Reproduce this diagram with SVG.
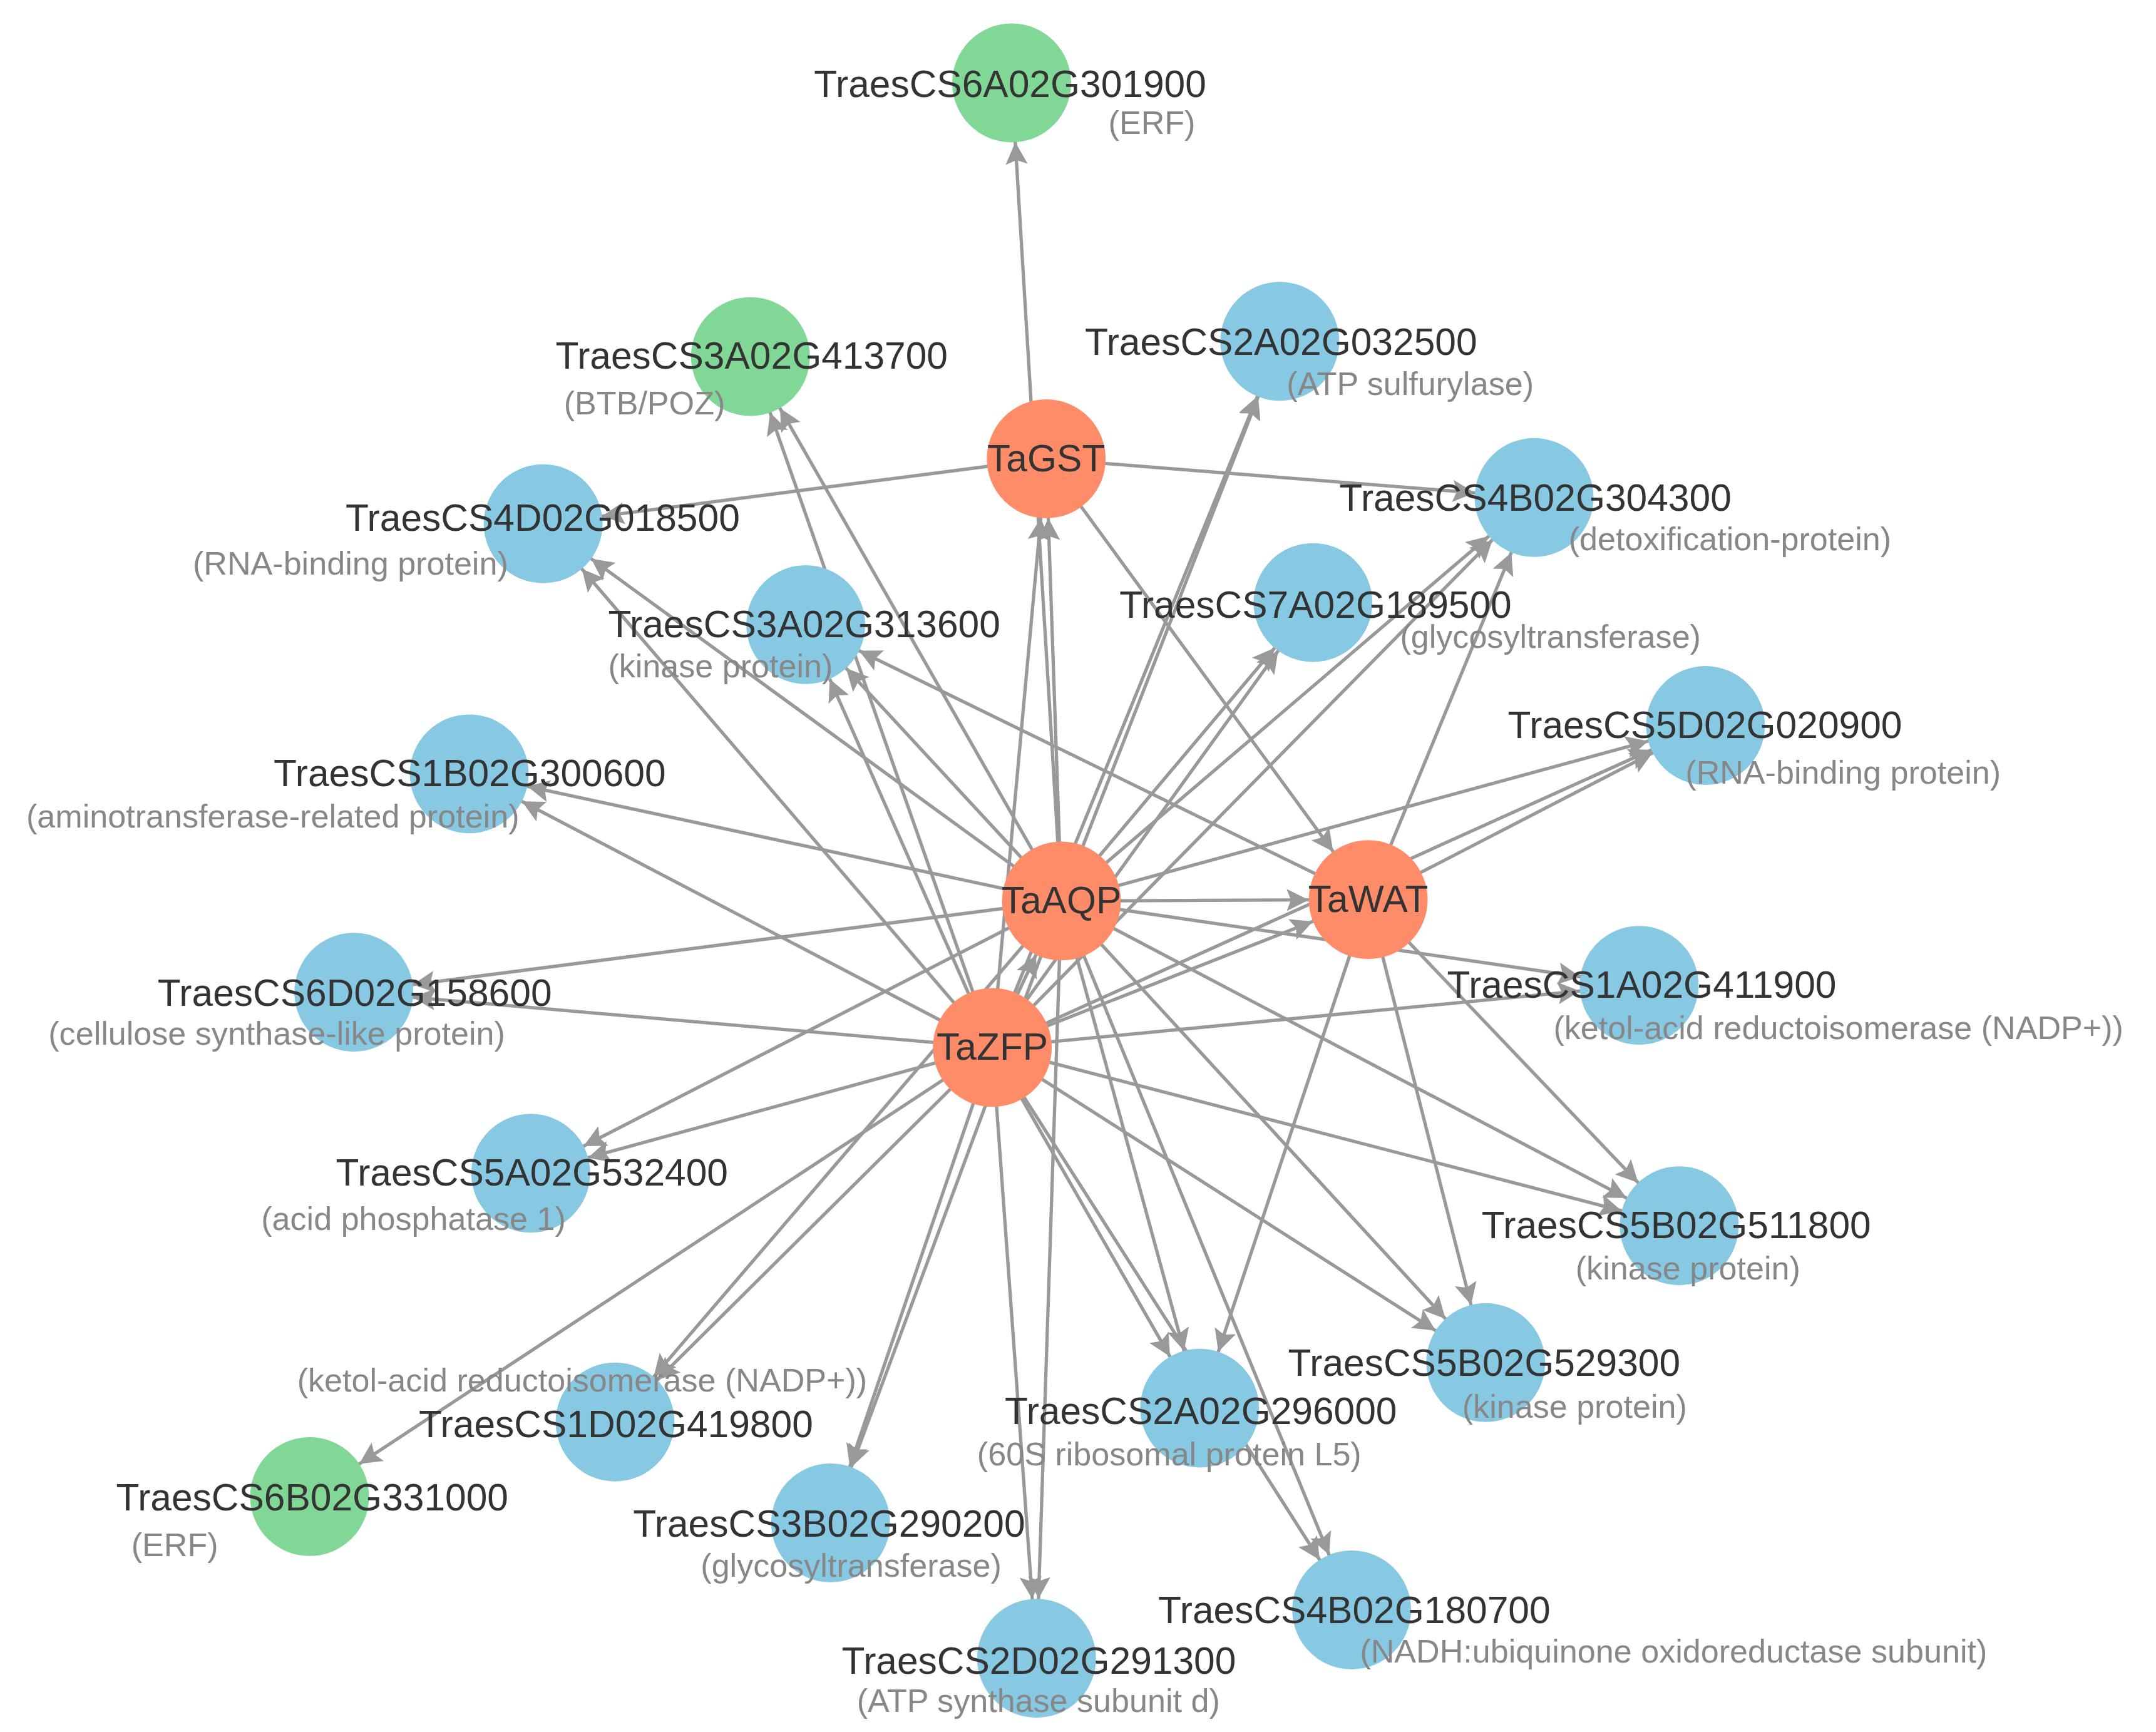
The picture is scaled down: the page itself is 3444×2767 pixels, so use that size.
<svg xmlns="http://www.w3.org/2000/svg" width="3444" height="2767" viewBox="0 0 3444 2767">
<defs>
<style>
.e{stroke:#999;stroke-width:2.4;fill:none;marker-end:url(#arr)}
.hub{fill:#ff8c69}
.blue{fill:#87c9e3}
.green{fill:#81d795}
.m{font-family:"Liberation Sans",Arial,Helvetica,sans-serif;font-size:27.4px;fill:#333}
.s{font-family:"Liberation Sans",Arial,Helvetica,sans-serif;font-size:23.6px;fill:#878787}
.h{font-family:"Liberation Sans",Arial,Helvetica,sans-serif;font-size:27.4px;fill:#333;text-anchor:middle}
</style>
<marker id="arr" markerUnits="userSpaceOnUse" viewBox="0 0 60 20" markerWidth="60" markerHeight="20" refX="59" refY="10" orient="auto" overflow="visible"><path d="M0,2 L16,10 L0,18 L3,10 Z" fill="#999"/></marker>
</defs>
<rect width="3444" height="2767" fill="#fff"/>
<g transform="scale(2.2077)">
<g id="connectors">
<line class="e" x1="768" y1="652" x2="732" y2="60"/>
<line class="e" x1="768" y1="652" x2="757" y2="332"/>
<line class="e" x1="718" y1="758" x2="757" y2="332"/>
<line class="e" x1="757" y1="332" x2="393" y2="379"/>
<line class="e" x1="757" y1="332" x2="1110" y2="360"/>
<line class="e" x1="757" y1="332" x2="990" y2="651"/>
<line class="e" x1="768" y1="652" x2="543" y2="258"/>
<line class="e" x1="718" y1="758" x2="543" y2="258"/>
<line class="e" x1="768" y1="652" x2="926" y2="247"/>
<line class="e" x1="718" y1="758" x2="926" y2="247"/>
<line class="e" x1="768" y1="652" x2="393" y2="379"/>
<line class="e" x1="718" y1="758" x2="393" y2="379"/>
<line class="e" x1="768" y1="652" x2="1110" y2="360"/>
<line class="e" x1="718" y1="758" x2="1110" y2="360"/>
<line class="e" x1="990" y1="651" x2="1110" y2="360"/>
<line class="e" x1="768" y1="652" x2="583" y2="452"/>
<line class="e" x1="718" y1="758" x2="583" y2="452"/>
<line class="e" x1="990" y1="651" x2="583" y2="452"/>
<line class="e" x1="768" y1="652" x2="950" y2="436"/>
<line class="e" x1="718" y1="758" x2="950" y2="436"/>
<line class="e" x1="768" y1="652" x2="1234" y2="525"/>
<line class="e" x1="718" y1="758" x2="1234" y2="525"/>
<line class="e" x1="990" y1="651" x2="1234" y2="525"/>
<line class="e" x1="768" y1="652" x2="339.5" y2="560"/>
<line class="e" x1="718" y1="758" x2="339.5" y2="560"/>
<line class="e" x1="768" y1="652" x2="990" y2="651"/>
<line class="e" x1="718" y1="758" x2="990" y2="651"/>
<line class="e" x1="718" y1="758" x2="768" y2="652"/>
<line class="e" x1="768" y1="652" x2="256" y2="718"/>
<line class="e" x1="718" y1="758" x2="256" y2="718"/>
<line class="e" x1="768" y1="652" x2="1186" y2="713"/>
<line class="e" x1="718" y1="758" x2="1186" y2="713"/>
<line class="e" x1="768" y1="652" x2="384" y2="849"/>
<line class="e" x1="718" y1="758" x2="384" y2="849"/>
<line class="e" x1="768" y1="652" x2="1215" y2="887"/>
<line class="e" x1="718" y1="758" x2="1215" y2="887"/>
<line class="e" x1="990" y1="651" x2="1215" y2="887"/>
<line class="e" x1="768" y1="652" x2="1075" y2="986"/>
<line class="e" x1="718" y1="758" x2="1075" y2="986"/>
<line class="e" x1="990" y1="651" x2="1075" y2="986"/>
<line class="e" x1="768" y1="652" x2="868" y2="1019"/>
<line class="e" x1="718" y1="758" x2="868" y2="1019"/>
<line class="e" x1="990" y1="651" x2="868" y2="1019"/>
<line class="e" x1="768" y1="652" x2="445" y2="1029"/>
<line class="e" x1="718" y1="758" x2="445" y2="1029"/>
<line class="e" x1="718" y1="758" x2="224" y2="1083"/>
<line class="e" x1="768" y1="652" x2="601" y2="1102"/>
<line class="e" x1="718" y1="758" x2="601" y2="1102"/>
<line class="e" x1="768" y1="652" x2="750" y2="1200"/>
<line class="e" x1="718" y1="758" x2="750" y2="1200"/>
<line class="e" x1="768" y1="652" x2="978" y2="1165"/>
<line class="e" x1="718" y1="758" x2="978" y2="1165"/>
</g>
<g id="TraesCS6A02G301900"><circle class="green" cx="732" cy="60" r="43"/><text class="m" x="589" y="70">TraesCS6A02G301900</text><text class="s" x="802" y="97">(ERF)</text></g>
<g id="TraesCS3A02G413700"><circle class="green" cx="543" cy="258" r="43"/><text class="m" x="402" y="267">TraesCS3A02G413700</text><text class="s" x="408" y="300">(BTB/POZ)</text></g>
<g id="TraesCS2A02G032500"><circle class="blue" cx="926" cy="247" r="43"/><text class="m" x="785" y="257">TraesCS2A02G032500</text><text class="s" x="931" y="286">(ATP sulfurylase)</text></g>
<g id="TraesCS4D02G018500"><circle class="blue" cx="393" cy="379" r="43"/><text class="m" x="250" y="384">TraesCS4D02G018500</text><text class="s" x="139.5" y="416">(RNA-binding protein)</text></g>
<g id="TraesCS4B02G304300"><circle class="blue" cx="1110" cy="360" r="43"/><text class="m" x="969" y="369.5">TraesCS4B02G304300</text><text class="s" x="1135" y="398">(detoxification-protein)</text></g>
<g id="TraesCS3A02G313600"><circle class="blue" cx="583" cy="452" r="43"/><text class="m" x="440" y="461">TraesCS3A02G313600</text><text class="s" x="440" y="490">(kinase protein)</text></g>
<g id="TraesCS7A02G189500"><circle class="blue" cx="950" cy="436" r="43"/><text class="m" x="810" y="447">TraesCS7A02G189500</text><text class="s" x="1013" y="469">(glycosyltransferase)</text></g>
<g id="TraesCS5D02G020900"><circle class="blue" cx="1234" cy="525" r="43"/><text class="m" x="1091" y="534">TraesCS5D02G020900</text><text class="s" x="1219.5" y="567">(RNA-binding protein)</text></g>
<g id="TraesCS1B02G300600"><circle class="blue" cx="339.5" cy="560" r="43"/><text class="m" x="198" y="569">TraesCS1B02G300600</text><text class="s" x="19" y="599">(aminotransferase-related protein)</text></g>
<g id="TraesCS6D02G158600"><circle class="blue" cx="256" cy="718" r="43"/><text class="m" x="114" y="728">TraesCS6D02G158600</text><text class="s" x="35" y="756">(cellulose synthase-like protein)</text></g>
<g id="TraesCS1A02G411900"><circle class="blue" cx="1186" cy="713" r="43"/><text class="m" x="1047" y="722">TraesCS1A02G411900</text><text class="s" x="1124" y="752">(ketol-acid reductoisomerase (NADP+))</text></g>
<g id="TraesCS5A02G532400"><circle class="blue" cx="384" cy="849" r="43"/><text class="m" x="243" y="858">TraesCS5A02G532400</text><text class="s" x="189" y="890">(acid phosphatase 1)</text></g>
<g id="TraesCS5B02G511800"><circle class="blue" cx="1215" cy="887" r="43"/><text class="m" x="1072" y="896">TraesCS5B02G511800</text><text class="s" x="1140" y="926">(kinase protein)</text></g>
<g id="TraesCS5B02G529300"><circle class="blue" cx="1075" cy="986" r="43"/><text class="m" x="932" y="995.5">TraesCS5B02G529300</text><text class="s" x="1058" y="1026">(kinase protein)</text></g>
<g id="TraesCS2A02G296000"><circle class="blue" cx="868" cy="1019" r="43"/><text class="m" x="727" y="1030.5">TraesCS2A02G296000</text><text class="s" x="707" y="1060.5">(60S ribosomal protein L5)</text></g>
<g id="TraesCS1D02G419800"><circle class="blue" cx="445" cy="1029" r="43"/><text class="m" x="303" y="1040">TraesCS1D02G419800</text><text class="s" x="215" y="1007">(ketol-acid reductoisomerase (NADP+))</text></g>
<g id="TraesCS6B02G331000"><circle class="green" cx="224" cy="1083" r="43"/><text class="m" x="84" y="1093">TraesCS6B02G331000</text><text class="s" x="95" y="1126">(ERF)</text></g>
<g id="TraesCS3B02G290200"><circle class="blue" cx="601" cy="1102" r="43"/><text class="m" x="458" y="1112">TraesCS3B02G290200</text><text class="s" x="507" y="1141">(glycosyltransferase)</text></g>
<g id="TraesCS2D02G291300"><circle class="blue" cx="750" cy="1200" r="43"/><text class="m" x="609" y="1211">TraesCS2D02G291300</text><text class="s" x="620" y="1239">(ATP synthase subunit d)</text></g>
<g id="TraesCS4B02G180700"><circle class="blue" cx="978" cy="1165" r="43"/><text class="m" x="838" y="1174.5">TraesCS4B02G180700</text><text class="s" x="984" y="1203">(NADH:ubiquinone oxidoreductase subunit)</text></g>
<g id="TaGST"><circle class="hub" cx="757" cy="332" r="43"/><text class="h" x="757" y="341">TaGST</text></g>
<g id="TaAQP"><circle class="hub" cx="768" cy="652" r="43"/><text class="h" x="768" y="661">TaAQP</text></g>
<g id="TaWAT"><circle class="hub" cx="990" cy="651" r="43"/><text class="h" x="990" y="660">TaWAT</text></g>
<g id="TaZFP"><circle class="hub" cx="718" cy="758" r="43"/><text class="h" x="718" y="767">TaZFP</text></g>
</g>
</svg>
